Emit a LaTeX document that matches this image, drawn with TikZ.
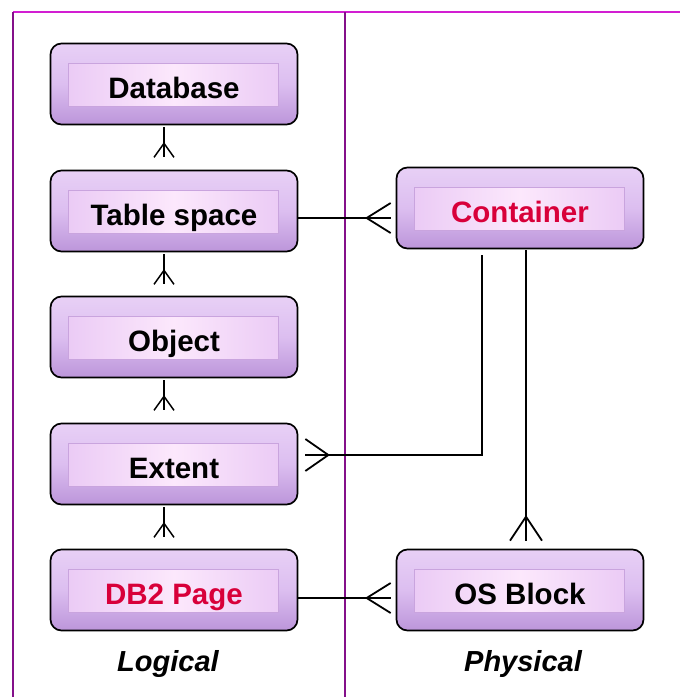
\documentclass[tikz,border=0pt]{standalone}
\usepackage{fontspec}
\setmainfont{Liberation Sans}
\usetikzlibrary{calc}
\definecolor{boxtop}{HTML}{E8D0F6}
\definecolor{boxmid}{HTML}{DCBEF0}
\definecolor{boxbot}{HTML}{BC96DA}
\definecolor{insd}{HTML}{E8C6F4}
\definecolor{inmid}{HTML}{FCE8FC}
\definecolor{inline}{HTML}{C9A4DE}
\definecolor{redtxt}{HTML}{D8003A}
\definecolor{magtop}{HTML}{D21ED2}
\definecolor{purp}{HTML}{84108A}
\tikzset{
  ent/.style={draw=black, line width=1.7pt, rounded corners=11pt,
    minimum width=247pt, minimum height=81pt, inner sep=0pt,
    text height=28pt, text depth=0pt,
    top color=boxtop, bottom color=boxbot, middle color=boxmid,
    font=\bfseries\fontsize{29.5}{32}\selectfont,
    path picture={
      \fill[sharp corners, left color=insd, right color=insd, middle color=inmid]
        ([shift={(18,20)}]path picture bounding box.north west) rectangle
        ([shift={(-19,-18)}]path picture bounding box.south east);
      \draw[sharp corners, inline, line width=0.8pt]
        ([shift={(18,20)}]path picture bounding box.north west) rectangle
        ([shift={(-19,-18)}]path picture bounding box.south east);
    }},
  conn/.style={draw=black, line width=1.8pt},
  lab/.style={font=\bfseries\itshape\fontsize{29}{32}\selectfont},
  frame/.style={line width=2.6pt}
}
\begin{document}
\begin{tikzpicture}[x=1pt,y=-1pt]
\useasboundingbox (0,0) rectangle (680,697);
% frame
\draw[frame, magtop] (13,12) -- (680,12);
\draw[frame, purp] (13,12) -- (13,697);
\draw[frame, purp] (345,12) -- (345,697);
% nodes
\node[ent] (db) at (174,84) {Database};
\node[ent] (ts) at (174,211) {Table space};
\node[ent] (obj) at (174,337) {Object};
\node[ent] (ext) at (174,464) {Extent};
\node[ent, text=redtxt] (pg) at (174,590) {DB2 Page};
\node[ent, text=redtxt] (cont) at (520,208) {Container};
\node[ent] (osb) at (520,590) {OS Block};
\node[lab] (logl) at (168,664) {Logical};
\node[lab] (phyl) at (523,664) {Physical};
% vertical small crow's feet
\foreach \u in {db,ts,obj,ext}{
  \coordinate (v) at ([shift={(-10,2)}]\u.south);
  \draw[conn, line width=1.5pt] (v) -- ++(0,30);
  \draw[conn, line width=1.5pt] ([shift={(0,16)}]v) -- ++(-10,14);
  \draw[conn, line width=1.5pt] ([shift={(0,16)}]v) -- ++(10,14);
}
% Table space -> Container
\coordinate (c1) at ([shift={(-5,10)}]cont.west);
\draw[conn] (ts.east |- c1) -- (c1);
\draw[conn] ([shift={(-24,0)}]c1) -- ([shift={(0,-15)}]c1);
\draw[conn] ([shift={(-24,0)}]c1) -- ([shift={(0,15)}]c1);
% DB2 Page -> OS Block
\coordinate (p1) at ([shift={(-5,8)}]osb.west);
\draw[conn] (pg.east |- p1) -- (p1);
\draw[conn] ([shift={(-24,0)}]p1) -- ([shift={(0,-15)}]p1);
\draw[conn] ([shift={(-24,0)}]p1) -- ([shift={(0,15)}]p1);
% Container -> Extent
\coordinate (e1) at ([shift={(7,-9)}]ext.east);
\draw[conn] ([shift={(-38,6)}]cont.south) |- (e1);
\draw[conn] ([shift={(23,0)}]e1) -- ([shift={(0,-16)}]e1);
\draw[conn] ([shift={(23,0)}]e1) -- ([shift={(0,16)}]e1);
% Container -> OS Block
\coordinate (o1) at ([shift={(6,-8)}]osb.north);
\draw[conn] ([shift={(6,1)}]cont.south) -- (o1);
\draw[conn] ([shift={(0,-24)}]o1) -- ([shift={(-16,0)}]o1);
\draw[conn] ([shift={(0,-24)}]o1) -- ([shift={(16,0)}]o1);
\end{tikzpicture}
\end{document}
